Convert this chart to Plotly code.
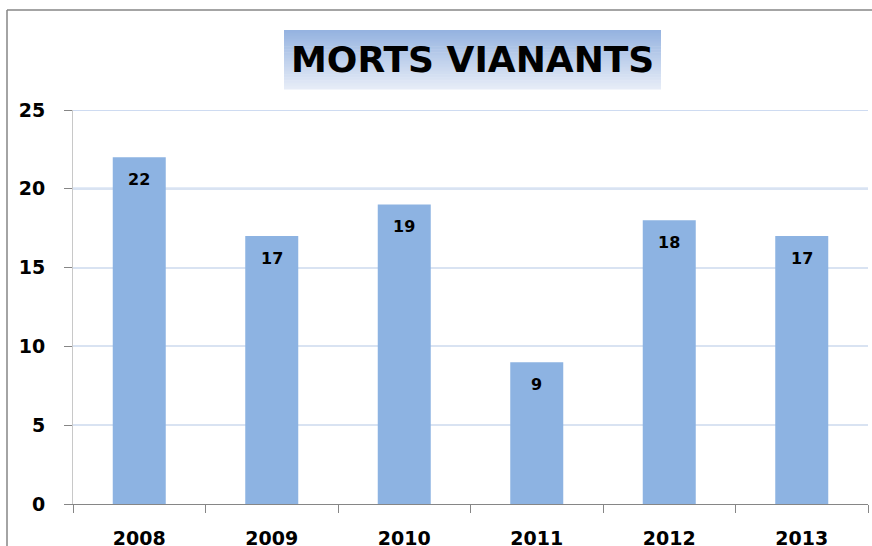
import plotly.graph_objects as go

years = ["2008", "2009", "2010", "2011", "2012", "2013"]
deaths = [22, 17, 19, 9, 18, 17]
y_ticks = [0, 5, 10, 15, 20, 25]
title_text = "MORTS VIANANTS"

BAR_COLOR = "#8DB3E2"
W, H = 872, 546
ML, MR, MT, MB = 73, 4, 110, 42
PW, PH = W - ML - MR, H - MT - MB


def px_x(p):
    return (p - ML) / PW


def px_y(p):
    return (H - MB - p) / PH


fig = go.Figure()
fig.add_trace(go.Bar(
    x=years, y=deaths, marker=dict(color=BAR_COLOR, line=dict(width=0)),
    width=0.4, hoverinfo="x+y",
))

shapes = []
# outer chart border
shapes.append(dict(type="line", xref="paper", yref="paper",
                   x0=px_x(7), x1=px_x(7), y0=px_y(10), y1=px_y(560),
                   line=dict(color="#868686", width=1.5), layer="above"))
shapes.append(dict(type="line", xref="paper", yref="paper",
                   x0=px_x(7), x1=px_x(880), y0=px_y(10), y1=px_y(10),
                   line=dict(color="#868686", width=1.5), layer="above"))
# title box gradient
top_c = (149, 179, 224)
bot_c = (230, 236, 247)
n = 40
y_top, y_bot = 30, 89
for i in range(n):
    t = i / (n - 1)
    c = tuple(round(top_c[k] + (bot_c[k] - top_c[k]) * t) for k in range(3))
    ya = y_top + (y_bot - y_top) * i / n
    yb = y_top + (y_bot - y_top) * (i + 1) / n
    shapes.append(dict(type="rect", xref="paper", yref="paper",
                       x0=px_x(284), x1=px_x(661), y0=px_y(ya), y1=px_y(yb + 0.6),
                       fillcolor="rgb(%d,%d,%d)" % c, line=dict(width=0), layer="below"))
# emphasised gridlines (frame top and 20)
shapes.append(dict(type="line", xref="paper", yref="y", x0=0, x1=1, y0=y_ticks[-1], y1=y_ticks[-1],
                   line=dict(color="#9DB8E3", width=1.2), layer="below"))
shapes.append(dict(type="line", xref="paper", yref="y", x0=0, x1=1, y0=y_ticks[-2], y1=y_ticks[-2],
                   line=dict(color="#8FB0E0", width=2), layer="below"))

annotations = [dict(text=title_text, xref="paper", yref="paper",
                    x=px_x(472), y=px_y(60), xanchor="center", yanchor="middle",
                    showarrow=False,
                    font=dict(family="DejaVu Sans", size=36, color="#000000", weight="bold"))]
for i, v in enumerate(deaths):
    annotations.append(dict(text=str(v), x=i, y=v, xref="x", yref="y",
                            yanchor="middle", xanchor="center", yshift=-22,
                            showarrow=False,
                            font=dict(family="DejaVu Sans", size=16, color="#000000", weight="bold")))

fig.update_layout(
    width=W, height=H,
    margin=dict(l=ML, r=MR, t=MT, b=MB, pad=0, autoexpand=False),
    paper_bgcolor="white", plot_bgcolor="white",
    showlegend=False,
    bargap=0.6,
    shapes=shapes,
    annotations=annotations,
    xaxis=dict(
        type="category", range=[-0.5, len(years) - 0.5], autorange=False,
        showgrid=False, showline=True, linecolor="#868686", linewidth=1,
        ticks="outside", tickson="boundaries", ticklen=8, tickcolor="#868686",
        tickfont=dict(family="DejaVu Sans", size=19, color="#000000", weight="bold"),
        ticklabelstandoff=17, zeroline=False, automargin=False, tickangle=0,
    ),
    yaxis=dict(
        range=[0, 25], autorange=False, tickvals=y_ticks, showgrid=True, gridcolor="#D9E3F2", gridwidth=1.5,
        showline=True, linecolor="#C8C8C8", linewidth=1,
        ticks="outside", ticklen=8, tickcolor="#868686",
        tickfont=dict(family="DejaVu Sans", size=19, color="#000000", weight="bold"),
        ticklabelstandoff=15, zeroline=False, automargin=False,
    ),
)

fig.write_html(
    "out.html",
    config={"displayModeBar": False},
    post_script="document.body.style.margin='0';document.body.style.overflow='hidden';",
)
